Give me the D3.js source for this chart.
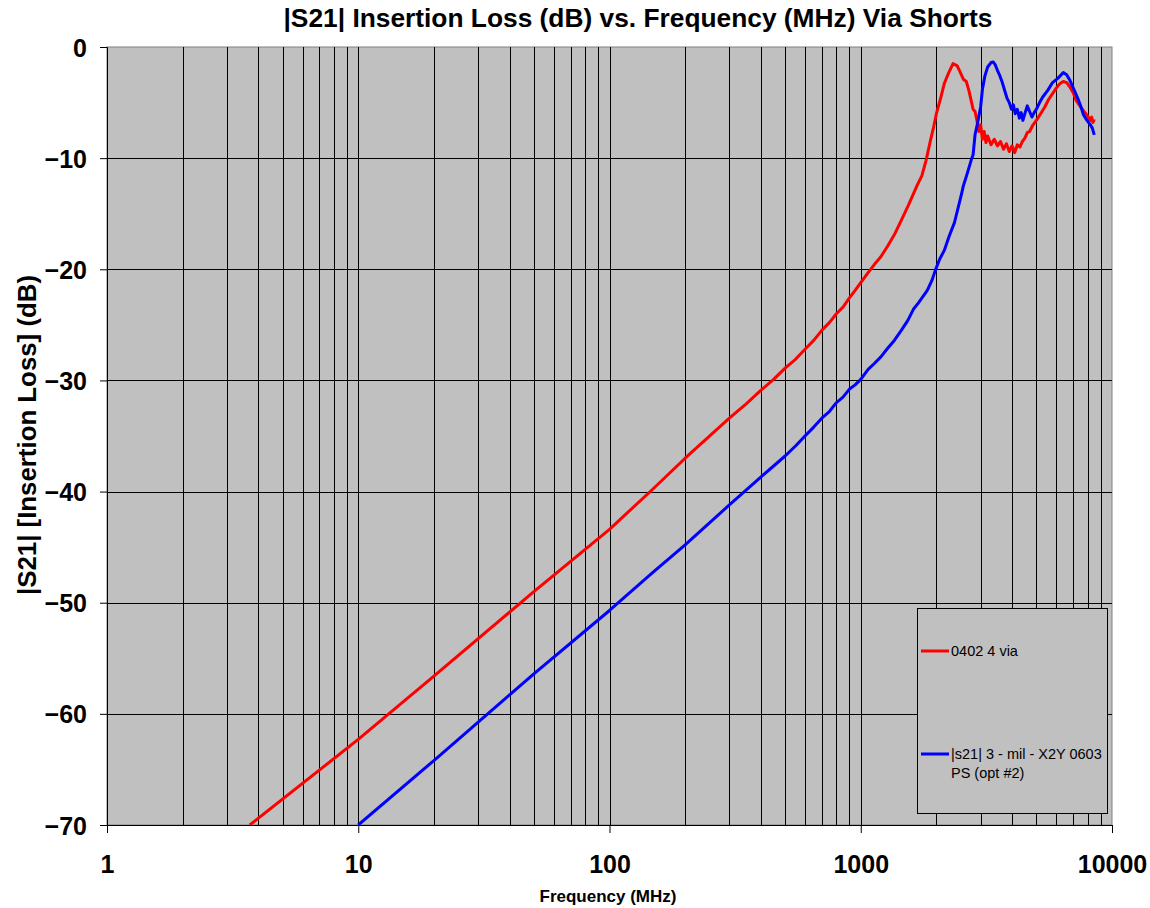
<!DOCTYPE html>
<html>
<head>
<meta charset="utf-8">
<script src="https://cdn.jsdelivr.net/npm/d3@7"></script>
<style>
  body { margin: 0; background: #ffffff; }
  text { font-family: "Liberation Sans", Arial, sans-serif; }
</style>
</head>
<body>
<div id="chart"></div>
<script>
// tick labels
const xTicks = [1, 10, 100, 1000, 10000];
const yTicks = [0, -10, -20, -30, -40, -50, -60, -70];

// series 1 : 0402 4 via
const redName = '0402 4 via';
const redFreq = [3.7, 10, 20, 50, 100, 150, 200, 300, 350, 400, 450, 500, 550, 600, 650, 700, 750, 800, 850, 900, 950,
  1000, 1070, 1130, 1200, 1280, 1360, 1450, 1550, 1680, 1750, 1820, 1890, 1950, 2000, 2080, 2150, 2240, 2330, 2380, 2420,
  2480, 2560, 2630, 2700, 2750, 2800, 2850, 2900, 2950, 3000, 3050, 3100, 3150, 3200, 3300, 3400, 3500, 3600, 3700, 3800,
  3900, 4000, 4100, 4200, 4300, 4400, 4500, 4600, 4700, 4850, 5000, 5200, 5400, 5600, 5800, 6000, 6200, 6400, 6600, 6800,
  7000, 7200, 7500, 7800, 8000, 8200, 8300, 8400, 8500];
const redDb = [-70.0, -62.3, -56.6, -49.0, -43.4, -39.7, -37.0, -33.4, -32.1, -30.9, -29.9, -28.9, -28.1, -27.2, -26.4,
  -25.5, -24.8, -24.0, -23.4, -22.6, -21.9, -21.2, -20.3, -19.6, -18.9, -17.9, -16.9, -15.6, -14.2, -12.4, -11.6, -10.2,
  -8.5, -7.2, -6.0, -4.6, -3.3, -2.3, -1.5, -1.6, -1.7, -2.2, -2.9, -3.1, -4.0, -4.8, -5.6, -5.8, -6.6, -7.6, -7.0, -8.3,
  -7.6, -8.6, -8.0, -8.8, -8.3, -8.9, -8.5, -9.2, -8.7, -9.4, -8.9, -9.5, -8.8, -9.0, -8.5, -8.2, -7.7, -7.6, -7.0, -6.6,
  -6.0, -5.4, -4.7, -4.2, -3.7, -3.3, -3.1, -3.2, -3.6, -4.1, -4.8, -5.4, -5.9, -6.2, -6.6, -6.3, -6.8, -6.5];

// series 2 : X2Y 0603
const blueName = ['|s21| 3 - mil - X2Y 0603', 'PS (opt #2)'];
const blueFreq = [10, 20, 50, 100, 150, 200, 300, 400, 450, 500, 550, 600, 650, 700, 750, 800, 850, 900, 950, 1000, 1070,
  1130, 1200, 1280, 1360, 1450, 1540, 1620, 1700, 1840, 1920, 1980, 2060, 2150, 2250, 2360, 2420, 2470, 2520, 2560, 2660,
  2750, 2800, 2850, 2920, 3000, 3050, 3120, 3200, 3300, 3370, 3430, 3500, 3580, 3660, 3750, 3820, 3900, 3980, 4050, 4120,
  4200, 4280, 4350, 4420, 4500, 4600, 4700, 4800, 4900, 5000, 5150, 5300, 5550, 5800, 6100, 6400, 6600, 6800, 7050, 7300,
  7500, 7700, 7950, 8200, 8350, 8450, 8500];
const blueDb = [-70.0, -64.2, -56.4, -50.7, -47.2, -44.8, -41.2, -38.7, -37.7, -36.8, -35.9, -35.0, -34.2, -33.4, -32.8,
  -32.0, -31.5, -30.8, -30.4, -29.9, -29.0, -28.5, -27.9, -27.1, -26.4, -25.5, -24.6, -23.6, -23.0, -21.9, -21.0, -20.1,
  -19.1, -18.3, -17.0, -15.8, -14.8, -14.0, -13.2, -12.5, -11.3, -10.2, -9.7, -7.9, -6.8, -5.4, -3.8, -2.6, -1.8, -1.4,
  -1.35, -1.6, -2.1, -2.6, -3.2, -4.0, -4.6, -5.0, -5.6, -5.2, -6.0, -5.6, -6.4, -5.9, -6.6, -6.0, -5.3, -5.8, -6.3, -5.9,
  -5.6, -5.0, -4.5, -3.9, -3.2, -2.8, -2.3, -2.5, -3.0, -3.8, -4.6, -5.3, -6.1, -6.6, -7.0, -7.3, -7.7, -7.9];

function drawChart() {
  const width = 1150, height = 908;
  const margin = { top: 47, left: 107, right: 38, bottom: 83 };
  const plotW = width - margin.left - margin.right;
  const plotH = height - margin.top - margin.bottom;

  const svg = d3.select('#chart').append('svg')
      .attr('width', width)
      .attr('height', height);

  const x = d3.scaleLog().domain([1, 10000]).range([0, plotW]);
  const y = d3.scaleLinear().domain([-70, 0]).range([plotH, 0]);

  const chartLayer = svg.append('g')
      .attr('transform', 'translate(' + [margin.left, margin.top] + ')');

  chartLayer.append('rect')
      .attr('width', plotW)
      .attr('height', plotH)
      .attr('fill', '#c0c0c0')
      .attr('stroke', '#808080');

  // vertical grid on every log tick
  const minor = [];
  for (var d = 1; d < 10000; d *= 10) {
    for (var k = 1; k < 10; k++) {
      if (d * k > 1) minor.push(d * k);
    }
  }
  chartLayer.selectAll('.vgrid').data(minor).enter()
      .append('line')
      .attr('x1', function(v) { return Math.round(x(v)) + 0.5; })
      .attr('x2', function(v) { return Math.round(x(v)) + 0.5; })
      .attr('y1', 0)
      .attr('y2', plotH)
      .attr('stroke', '#000')
      .attr('stroke-width', 1);

  chartLayer.selectAll('.hgrid').data(yTicks.slice(1, -1)).enter()
      .append('line')
      .attr('x1', 0)
      .attr('x2', plotW)
      .attr('y1', function(v) { return Math.round(y(v)) + 0.5; })
      .attr('y2', function(v) { return Math.round(y(v)) + 0.5; })
      .attr('stroke', '#000')
      .attr('stroke-width', 1);

  // axes
  const yAxis = d3.axisLeft(y).tickValues(yTicks).tickSize(7).tickFormat(d3.format('d'));
  const yg = chartLayer.append('g').call(yAxis);
  yg.select('.domain').attr('stroke', '#000');
  yg.selectAll('text')
      .attr('x', -20)
      .attr('dy', '0.36em')
      .style('font-size', '25px')
      .style('font-weight', 'bold')
      .style('font-family', '"Liberation Sans", Arial, sans-serif');

  const xAxis = d3.axisBottom(x).tickValues(xTicks).tickSize(8).tickFormat(d3.format('d'));
  const xg = chartLayer.append('g')
      .attr('transform', 'translate(0,' + plotH + ')')
      .call(xAxis);
  xg.select('.domain').attr('stroke', '#000');
  xg.selectAll('text')
      .attr('y', 48)
      .attr('dy', 0)
      .style('font-size', '25px')
      .style('font-weight', 'bold')
      .style('font-family', '"Liberation Sans", Arial, sans-serif');

  // curves
  svg.append('defs').append('clipPath').attr('id', 'clip')
      .append('rect').attr('width', plotW).attr('height', plotH);

  const line = d3.line()
      .x(function(d) { return x(d[0]); })
      .y(function(d) { return y(d[1]); });

  const curves = chartLayer.append('g').attr('clip-path', 'url(#clip)');
  curves.append('path')
      .datum(d3.zip(redFreq, redDb))
      .attr('d', line)
      .attr('fill', 'none')
      .attr('stroke', '#ff0000')
      .attr('stroke-width', 3)
      .attr('stroke-linejoin', 'round');
  curves.append('path')
      .datum(d3.zip(blueFreq, blueDb))
      .attr('d', line)
      .attr('fill', 'none')
      .attr('stroke', '#0000ff')
      .attr('stroke-width', 3)
      .attr('stroke-linejoin', 'round');

  // legend
  const legend = svg.append('g').attr('transform', 'translate(917,608)');
  legend.append('rect')
      .attr('x', 0.5).attr('y', 0.5)
      .attr('width', 190).attr('height', 205)
      .attr('fill', '#c0c0c0')
      .attr('stroke', '#000');
  legend.append('line')
      .attr('x1', 4).attr('x2', 32).attr('y1', 43).attr('y2', 43)
      .attr('stroke', '#ff0000').attr('stroke-width', 3);
  legend.append('text')
      .attr('x', 34).attr('y', 48)
      .style('font-size', '14.5px')
      .text(redName);
  legend.append('line')
      .attr('x1', 4).attr('x2', 32).attr('y1', 146).attr('y2', 146)
      .attr('stroke', '#0000ff').attr('stroke-width', 3);
  legend.selectAll('.bl').data(blueName).enter()
      .append('text')
      .attr('x', 34)
      .attr('y', function(d, i) { return 151 + i * 19; })
      .style('font-size', '14.5px')
      .text(function(d) { return d; });

  // titles
  svg.append('text')
      .attr('x', 638).attr('y', 27)
      .attr('text-anchor', 'middle')
      .attr('textLength', 709)
      .attr('lengthAdjust', 'spacingAndGlyphs')
      .style('font-size', '25px')
      .style('font-weight', 'bold')
      .text('|S21| Insertion Loss (dB) vs. Frequency (MHz) Via Shorts');
  svg.append('text')
      .attr('x', 608).attr('y', 902)
      .attr('text-anchor', 'middle')
      .style('font-size', '17px')
      .style('font-weight', 'bold')
      .text('Frequency (MHz)');
  svg.append('text')
      .attr('transform', 'translate(36,435) rotate(-90)')
      .attr('text-anchor', 'middle')
      .attr('textLength', 320)
      .attr('lengthAdjust', 'spacingAndGlyphs')
      .style('font-size', '25px')
      .style('font-weight', 'bold')
      .text('|S21| [Insertion Loss] (dB)');
}

drawChart();
</script>
</body>
</html>
